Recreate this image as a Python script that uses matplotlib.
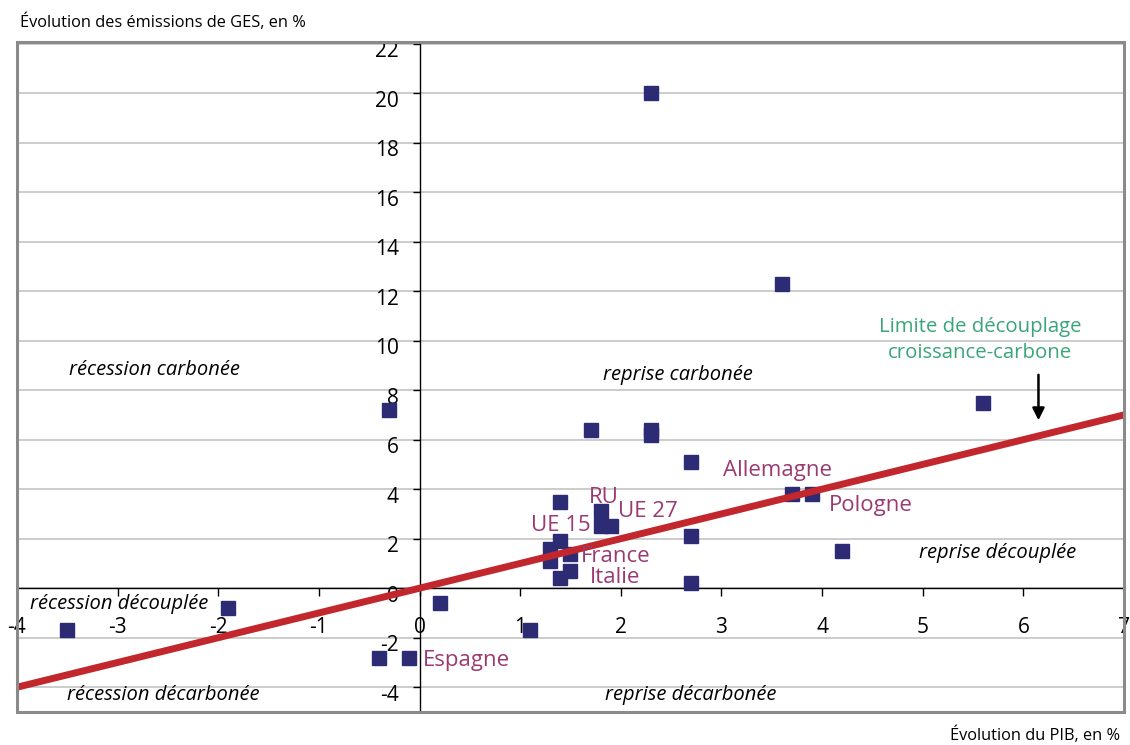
import numpy as np
import matplotlib
matplotlib.use("Agg")
import matplotlib.pyplot as plt
from matplotlib.patches import Rectangle
from matplotlib.transforms import ScaledTranslation

plt.rcParams['font.family'] = ['Open Sans', 'DejaVu Sans']

# Data: GDP change (x) vs GHG emissions change (y), in %
pib = [2.3, 3.6, 5.6, -0.3, 1.7, 2.3, 2.3, 2.7, 1.4, 1.8, 1.8, 1.9, 2.7, 1.4, 1.3,
       1.5, 1.3, 1.5, 1.4, 2.7, 3.7, 3.9, 4.2, 0.2, 1.1, -1.9, -3.5, -0.4, -0.1]
ges = [20.0, 12.3, 7.5, 7.2, 6.4, 6.4, 6.2, 5.1, 3.5, 3.1, 2.5, 2.5, 2.1, 1.9, 1.6,
       1.4, 1.1, 0.7, 0.4, 0.2, 3.8, 3.8, 1.5, -0.6, -1.7, -0.8, -1.7, -2.8, -2.8]

# Decoupling limit: emissions growth = GDP growth
limite_x = [-4, 7]
limite_y = [-4, 7]

pays = ["Allemagne", "Pologne", "RU", "UE 27", "UE 15", "France", "Italie", "Espagne"]
pays_x = [3.56, 4.48, 1.83, 2.27, 1.40, 1.95, 1.94, 0.47]
pays_y = [4.77, 3.35, 3.68, 3.11, 2.55, 1.30, 0.45, -2.90]

zones = ["récession carbonée", "reprise carbonée", "reprise découplée",
         "récession découplée", "récession décarbonée", "reprise décarbonée"]
zones_x = [-2.63, 2.57, 5.74, -2.98, -2.55, 2.69]
zones_y = [8.8, 8.6, 1.41, -0.65, -4.32, -4.32]

xticks = list(range(-4, 8))
yticks = list(range(-4, 23, 2))

fig = plt.figure(figsize=(11.3, 7.45), dpi=100)
ax = fig.add_axes([0.015, 0.0443, 0.9797, 0.8993])
ax.set_xlim(-4, 7)
ax.set_ylim(-5.0, 22.06)

# grid
for yv in yticks:
    ax.axhline(yv, color='#c8c8c8', lw=1.3, zorder=1)

# axes through zero
for s in ['top', 'right']:
    ax.spines[s].set_visible(False)
ax.spines['left'].set_position(('data', 0))
ax.spines['bottom'].set_position(('data', 0))
ax.spines['left'].set_linewidth(1.0)
ax.spines['bottom'].set_linewidth(1.0)
ax.spines['left'].set_zorder(2)
ax.spines['bottom'].set_zorder(2)

ax.set_xticks(xticks)
ax.set_yticks(yticks)
ax.set_xticklabels([str(v) for v in xticks])
ax.set_yticklabels([str(v) for v in yticks])
ax.tick_params(axis='x', direction='out', length=6, width=1, pad=15, labelsize=15)
ax.tick_params(axis='y', direction='out', length=5, width=1, pad=10, labelsize=15)
for lab in ax.get_yticklabels():
    lab.set_transform(lab.get_transform() + ScaledTranslation(0, -4 / 72, fig.dpi_scale_trans))

# outer frame
ax.add_patch(Rectangle((0, 0), 1, 1, transform=ax.transAxes, fill=False,
                       edgecolor='#8a8a8a', lw=2.2, zorder=6, clip_on=False))

# points and decoupling line
ax.plot(pib, ges, 's', color='#2d2b73', markersize=9.5, zorder=3)
ax.plot(limite_x, limite_y, '-', color='#c1272d', lw=5, zorder=4, solid_capstyle='butt')

# country labels
for nom, px, py in zip(pays, pays_x, pays_y):
    t = ax.text(px, py, nom, color='#9b3a72', fontsize=16, ha='center', va='center', zorder=5)
    if nom == "Pologne":
        clip = Rectangle((3.5, 3.11), 2, 2, transform=ax.transData)
        t.set_clip_path(clip)

# zone labels
for nom, zx, zy in zip(zones, zones_x, zones_y):
    ax.text(zx, zy, nom, style='italic', fontsize=14.5, ha='center', va='center', zorder=5)

ax.text(5.57, 10.04, "Limite de découplage\ncroissance-carbone", color='#3aa57a',
        fontsize=14.7, ha='center', va='center', linespacing=1.4, zorder=5)
ax.annotate("", xy=(6.15, 6.67), xytext=(6.15, 8.73),
            arrowprops=dict(arrowstyle='-|>', color='black', lw=1.8, mutation_scale=18), zorder=5)

fig.text(20 / 1130, 1 - 22 / 745, "Évolution des émissions de GES, en %", fontsize=11.8,
         ha='left', va='center')
fig.text(1120 / 1130, 1 - 735 / 745, "Évolution du PIB, en %", fontsize=11.8,
         ha='right', va='center')

fig.savefig("out.png", dpi=100)
